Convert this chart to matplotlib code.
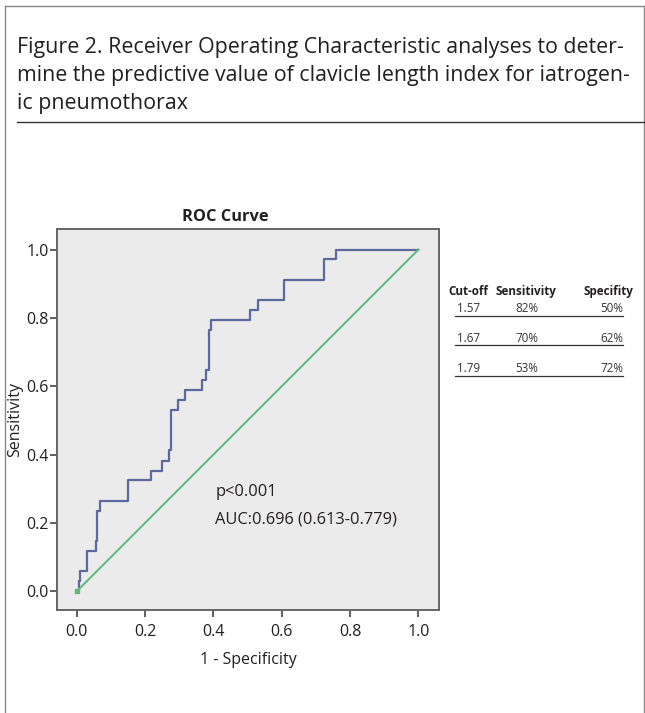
import matplotlib.pyplot as plt
from matplotlib.lines import Line2D

W, H = 645, 713

# ROC curve corners (1 - specificity, sensitivity)
fpr = [0.0, 0.006, 0.009, 0.030, 0.055, 0.060, 0.069, 0.150, 0.216, 0.250,
       0.270, 0.275, 0.296, 0.317, 0.366, 0.378, 0.387, 0.393, 0.506, 0.531,
       0.607, 0.724, 0.759, 1.0]
tpr = [0.0, 0.029, 0.059, 0.118, 0.147, 0.235, 0.265, 0.324, 0.353, 0.382,
       0.412, 0.529, 0.559, 0.588, 0.618, 0.647, 0.765, 0.794, 0.824, 0.853,
       0.912, 0.971, 1.0, 1.0]
ref_line = [0.0, 1.0]

ticks = [0.0, 0.2, 0.4, 0.6, 0.8, 1.0]
tick_labels = ['0.0', '0.2', '0.4', '0.6', '0.8', '1.0']

caption = ["Figure 2. Receiver Operating Characteristic analyses to deter-",
           "mine the predictive value of clavicle length index for iatrogen-",
           "ic pneumothorax"]

table_header = ['Cut-off', 'Sensitivity', 'Specifity']
cutoffs = ['1.57', '1.67', '1.79']
sens = ['82%', '70%', '53%']
spec = ['50%', '62%', '72%']

plt.rcParams['font.family'] = ['Open Sans', 'DejaVu Sans']


def fx(px):
    return px / W


def fy(py):
    return 1 - py / H


def hline(x0, x1, y, color='#333333', lw=1.0):
    fig.add_artist(Line2D([fx(x0), fx(x1)], [fy(y), fy(y)],
                          transform=fig.transFigure, color=color, linewidth=lw))


def vline(x, y0, y1, color='#888888', lw=1.0):
    fig.add_artist(Line2D([fx(x), fx(x)], [fy(y0), fy(y1)],
                          transform=fig.transFigure, color=color, linewidth=lw))


fig = plt.figure(figsize=(W / 100, H / 100), dpi=100)

# outer frame of the figure box (bottom is cut off)
hline(5, 644, 6, color='#888888')
vline(5, 6, 713)
vline(644, 6, 713)

# caption
for i, line in enumerate(caption):
    fig.text(fx(17), fy(47 + i * 28.5), line, fontsize=15.4, color='#231f20',
             va='center', ha='left')
hline(17, 645, 122)

# ROC plot
ax = fig.add_axes([fx(57), fy(610), fx(439) - fx(57), fy(229) - fy(610)])
ax.set_facecolor('#ebebeb')
ax.plot(fpr, tpr, drawstyle='steps-post', color='#5b6a9e', linewidth=1.6)
ax.plot(ref_line, ref_line, color='#5cb97a', linewidth=1.4)
ax.plot([0], [0], marker='s', markersize=3, color='#5cb97a')
ax.set_xlim(-0.058, 1.06)
ax.set_ylim(-0.055, 1.06)
ax.set_xticks(ticks)
ax.set_xticklabels(tick_labels)
ax.set_yticks(ticks)
ax.set_yticklabels(tick_labels)
ax.tick_params(direction='out', length=5, width=1.2, color='#444444',
               labelsize=11.5, labelcolor='#231f20', pad=1)
ax.tick_params(axis='x', pad=5)
for s in ax.spines.values():
    s.set_color('#666666')
    s.set_linewidth(1.4)
ax.set_title('ROC Curve', fontsize=11.8, fontweight='bold', color='#231f20',
             pad=6, x=0.44)
ax.set_xlabel('1 - Specificity', fontsize=11.5, color='#231f20', labelpad=9)
ax.set_ylabel('Sensitivity', fontsize=11.5, color='#231f20', labelpad=2)

ax.text(0.405, 0.29, 'p<0.001', fontsize=11.8, color='#231f20', va='center')
ax.text(0.405, 0.21, 'AUC:0.696 (0.613-0.779)', fontsize=11.8, color='#231f20',
        va='center')

# table to the right
fs = 8.4
fig.text(fx(448), fy(291), table_header[0], fontsize=fs, fontweight='bold',
         color='#231f20', va='center')
fig.text(fx(496), fy(291), table_header[1], fontsize=fs, fontweight='bold',
         color='#231f20', va='center')
fig.text(fx(583), fy(291), table_header[2], fontsize=fs, fontweight='bold',
         color='#231f20', va='center')
row_y = [309, 338, 369]
line_y = [316, 345, 376]
for i in range(3):
    fig.text(fx(457), fy(row_y[i]), cutoffs[i], fontsize=fs, color='#333333',
             va='center')
    fig.text(fx(515), fy(row_y[i]), sens[i], fontsize=fs, color='#333333',
             va='center')
    fig.text(fx(623), fy(row_y[i]), spec[i], fontsize=fs, color='#333333',
             va='center', ha='right')
    hline(455, 623, line_y[i], lw=0.9)

fig.savefig('out.png', dpi=100, facecolor='white')
